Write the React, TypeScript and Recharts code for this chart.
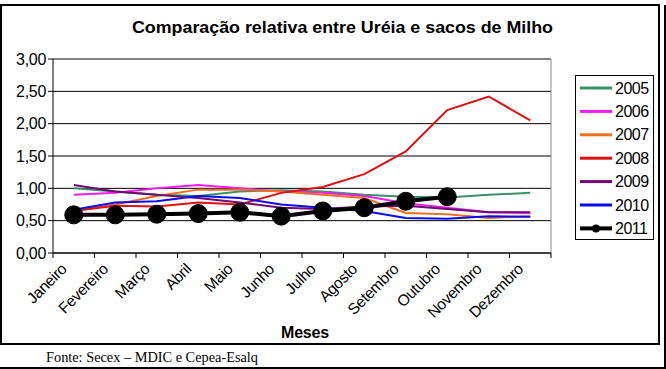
import React from 'react'
import { LineChart, Line, XAxis, YAxis, CartesianGrid, ReferenceLine } from 'recharts'

const months = [
  'Janeiro', 'Fevereiro', 'Março', 'Abril', 'Maio', 'Junho',
  'Julho', 'Agosto', 'Setembro', 'Outubro', 'Novembro', 'Dezembro',
]

const y2005 = [1.0, 0.95, 0.9, 0.88, 0.95, 0.97, 0.95, 0.9, 0.87, 0.86, 0.9, 0.93]
const y2006 = [0.9, 0.93, 1.0, 1.05, 1.0, 0.95, 0.93, 0.88, 0.77, 0.7, 0.63, 0.62]
const y2007 = [0.65, 0.75, 0.88, 0.98, 0.98, 0.95, 0.9, 0.85, 0.62, 0.6, 0.54, 0.57]
const y2008 = [0.65, 0.73, 0.72, 0.78, 0.75, 0.93, 1.02, 1.22, 1.57, 2.21, 2.42, 2.05]
const y2009 = [1.05, 0.95, 0.9, 0.85, 0.78, 0.7, 0.68, 0.72, 0.73, 0.68, 0.63, 0.63]
const y2010 = [0.67, 0.78, 0.8, 0.88, 0.85, 0.75, 0.7, 0.65, 0.54, 0.53, 0.57, 0.56]
const y2011 = [0.59, 0.59, 0.6, 0.61, 0.63, 0.57, 0.65, 0.7, 0.8, 0.87]

const yTicks = [0, 0.5, 1, 1.5, 2, 2.5, 3]
const xTicks = [0, 1, 2, 3, 4, 5, 6, 7, 8, 9, 10, 11, 12]

const series = [
  { key: '2005', values: y2005, color: '#3a9068' },
  { key: '2006', values: y2006, color: '#f01ef0' },
  { key: '2007', values: y2007, color: '#f07020' },
  { key: '2008', values: y2008, color: '#e01010' },
  { key: '2009', values: y2009, color: '#6e0a70' },
  { key: '2010', values: y2010, color: '#0a0af0' },
  { key: '2011', values: y2011, color: '#000000' },
]

const data = months.map((m, i) => {
  const row: Record<string, number | string | undefined> = { x: i + 0.5, month: m }
  series.forEach((s) => {
    row[s.key] = s.values[i]
  })
  return row
})

const font = '"Liberation Sans", Arial, sans-serif'

const XTick = (props: any) => {
  const { x, y, payload } = props
  const i = payload.value
  if (i >= months.length) return null
  const cx = x + 20.75
  return (
    <text
      transform={`translate(${cx - 6},${y + 12}) rotate(-45)`}
      textAnchor="end"
      fontSize={15.5}
      fontFamily={font}
      letterSpacing={-0.3}
      fill="#000"
    >
      {months[i]}
    </text>
  )
}

export default function App() {
  return (
    <div style={{ position: 'absolute', left: 0, top: 0, width: 666, height: 369, background: '#fff' }}>
      <LineChart
        width={666}
        height={369}
        data={data}
        margin={{ top: 59, right: 115, bottom: 46, left: 8 }}
      >
        <CartesianGrid vertical={false} stroke="#000" strokeWidth={1} />
        <XAxis
          dataKey="x"
          type="number"
          domain={[0, 12]}
          ticks={xTicks}
          interval={0}
          height={70}
          tickSize={5}
          tickMargin={0}
          tick={<XTick />}
          stroke="#000"
        />
        <YAxis
          domain={[0, 3]}
          ticks={yTicks}
          width={45}
          tickSize={5}
          tickMargin={2}
          stroke="#000"
          tick={{ fontSize: 16, fill: '#000', fontFamily: font, letterSpacing: -0.3 }}
          tickFormatter={(v: number) => v.toFixed(2).replace('.', ',')}
        />
        <ReferenceLine y={3} stroke="#888" strokeWidth={1} />
        <ReferenceLine x={12} stroke="#888" strokeWidth={1} />
        {series.map((s) =>
          s.key === '2011' ? (
            <Line
              key={s.key}
              dataKey={s.key}
              type="linear"
              stroke={s.color}
              strokeWidth={4}
              dot={{ r: 9, fill: '#000', stroke: '#000', strokeWidth: 1 }}
              isAnimationActive={false}
            />
          ) : (
            <Line
              key={s.key}
              dataKey={s.key}
              type="linear"
              stroke={s.color}
              strokeWidth={2}
              dot={false}
              isAnimationActive={false}
            />
          )
        )}
      </LineChart>
      <svg
        width={666}
        height={369}
        style={{ position: 'absolute', left: 0, top: 0, pointerEvents: 'none' }}
      >
        <rect x={1} y={5} width={658} height={339} fill="none" stroke="#000" strokeWidth={2} />
        <line x1={665} y1={5} x2={665} y2={368} stroke="#000" strokeWidth={2} />
        <line x1={0} y1={368} x2={666} y2={368} stroke="#000" strokeWidth={2} />
        <text
          x={132}
          y={33}
          textLength={421}
          lengthAdjust="spacingAndGlyphs"
          fontSize={16}
          fontWeight="bold"
          fontFamily={font}
          fill="#000"
        >
          Comparação relativa entre Uréia e sacos de Milho
        </text>
        <text x={305} y={338} textAnchor="middle" fontSize={16} fontWeight="bold" fontFamily={font} letterSpacing={-0.2} fill="#000">
          Meses
        </text>
        <text
          x={46}
          y={362}
          textLength={212}
          lengthAdjust="spacingAndGlyphs"
          fontSize={14}
          fontFamily='"Liberation Serif", "Times New Roman", serif'
          fill="#000"
        >
          Fonte: Secex – MDIC e Cepea-Esalq
        </text>
        <rect x={575.5} y={75.5} width={78} height={164} fill="#fff" stroke="#000" strokeWidth={1} />
        {series.map((s, i) => {
          const cy = 88 + i * 23.4
          return (
            <g key={s.key}>
              <line x1={580} y1={cy} x2={612} y2={cy} stroke={s.color} strokeWidth={s.key === '2011' ? 4 : 3} />
              {s.key === '2011' && <circle cx={596} cy={cy} r={4} fill="#000" />}
              <text x={615} y={cy + 5.5} fontSize={16} fontFamily={font} letterSpacing={-0.5} fill="#000">
                {s.key}
              </text>
            </g>
          )
        })}
      </svg>
    </div>
  )
}
